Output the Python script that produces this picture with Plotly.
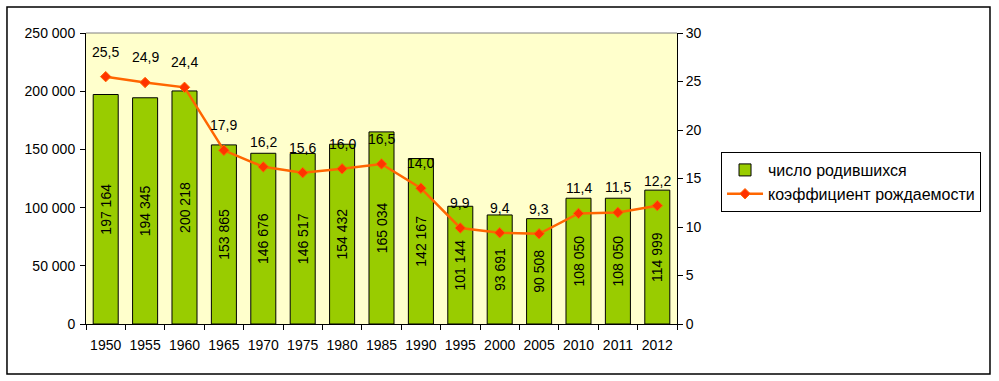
import plotly.graph_objects as go

years = ["1950", "1955", "1960", "1965", "1970", "1975", "1980", "1985",
         "1990", "1995", "2000", "2005", "2010", "2011", "2012"]
births = [197164, 194345, 200218, 153865, 146676, 146517, 154432, 165034,
          142167, 101144, 93691, 90508, 108050, 108050, 114999]
rate = [25.5, 24.9, 24.4, 17.9, 16.2, 15.6, 16.0, 16.5, 14.0, 9.9, 9.4, 9.3,
        11.4, 11.5, 12.2]

pos = list(range(len(years)))
birth_labels = [f"{v:,}".replace(",", " ") for v in births]
rate_labels = [f"{v:.1f}".replace(".", ",") for v in rate]

FONT = "Liberation Sans, Arial, sans-serif"

fig = go.Figure()
fig.add_trace(go.Bar(
    x=pos, y=births, name="число родившихся",
    marker=dict(color="#99CC00", line=dict(color="black", width=1)),
    width=0.635,
    text=birth_labels, textposition="inside", textangle=-90,
    insidetextanchor="middle",
    textfont=dict(size=14, color="black", family=FONT),
))
fig.add_trace(go.Scatter(
    x=pos, y=rate, name="коэффициент рождаемости", yaxis="y2",
    mode="lines+markers",
    line=dict(color="#FF6600", width=2.5),
    marker=dict(symbol="diamond", size=8, color="#FF3300",
                line=dict(color="#FF6600", width=1)),
))

for x, y, t in zip(pos, rate, rate_labels):
    fig.add_annotation(x=x, y=y, yref="y2", text=t, showarrow=False,
                       yshift=25, font=dict(size=14, color="black", family=FONT))

fig.update_layout(
    width=999, height=381,
    margin=dict(l=86, r=322, t=33, b=57, autoexpand=False),
    paper_bgcolor="white", plot_bgcolor="#FFFFCC",
    font=dict(family=FONT, size=14, color="black"),
    separators=", ",
    showlegend=True,
    legend=dict(x=1.0745, y=0.591, xanchor="left", yanchor="top",
                bordercolor="black", borderwidth=1, bgcolor="white",
                font=dict(size=16), tracegroupgap=0, itemwidth=36),
    xaxis=dict(range=[-0.5, len(years) - 0.5], tickmode="array",
               tickvals=pos, ticktext=years, ticks="",
               ticklabelstandoff=8,
               showline=True, linecolor="black", showgrid=False,
               zeroline=False, tickangle=0,
               minor=dict(ticks="outside", tickmode="array",
                          tickvals=[p - 0.5 for p in pos] + [len(years) - 0.5],
                          ticklen=5, tickcolor="black", showgrid=False)),
    yaxis=dict(range=[0, 250000], dtick=50000, tickformat=",d",
               showline=True, linecolor="black", ticks="outside",
               ticklabelstandoff=2,
               ticklen=5, tickcolor="black", showgrid=False, zeroline=False),
    yaxis2=dict(range=[0, 30], dtick=5, overlaying="y", side="right",
                showline=True, linecolor="black", ticks="outside",
                ticklen=5, tickcolor="black", showgrid=False, zeroline=False),
    shapes=[
        dict(type="line", xref="paper", yref="paper", x0=0, x1=1, y0=1, y1=1,
             line=dict(color="#808080", width=1)),
        dict(type="rect", xref="paper", yref="paper",
             x0=-0.1337, x1=1.5296, y0=-0.1718, y1=1.0893,
             line=dict(color="black", width=1.5)),
    ],
)

fig.write_html("out.html", config={"displayModeBar": False},
               post_script="document.body.style.margin='0';")
